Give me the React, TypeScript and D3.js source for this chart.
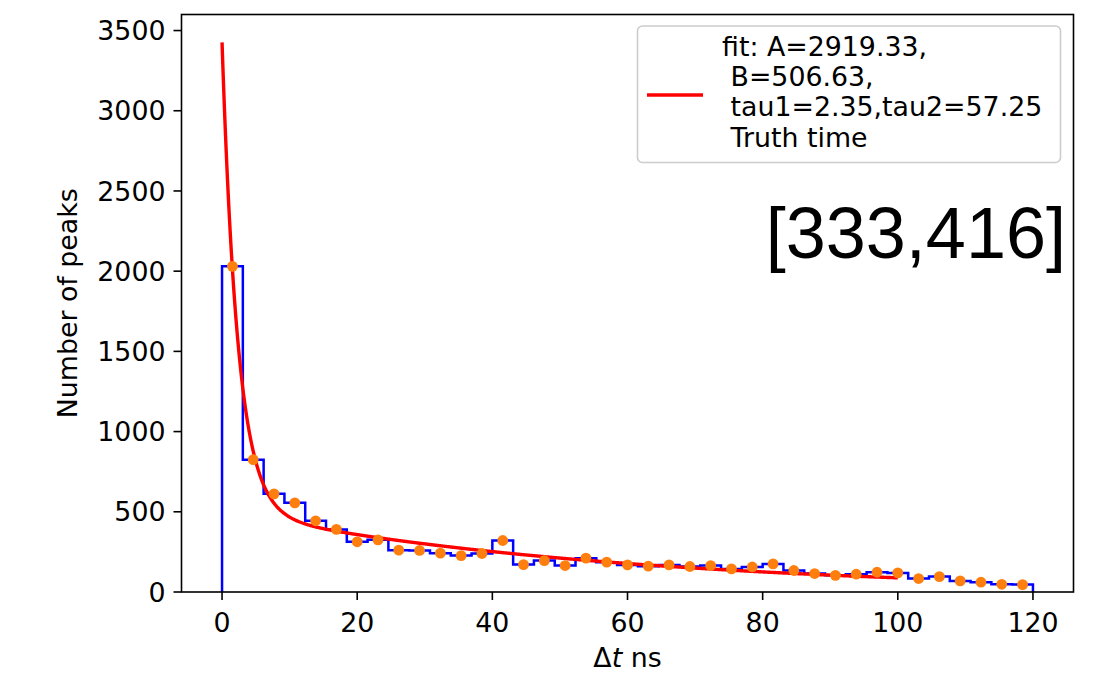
import React from 'react'
import * as d3 from 'd3'

// histogram of delta t (39 equal bins over [0, 120])
const binRange = [0, 120]
const counts = [
  2030, 825, 612, 556, 444, 390, 313, 325, 261, 259,
  242, 227, 240, 321, 171, 196, 165, 211, 186, 169,
  161, 169, 159, 165, 144, 156, 175, 134, 115, 104,
  111, 123, 119, 84, 96, 69, 61, 48, 46
]

// fit parameters shown in the legend
const fitA = 2919.33
const fitB = 506.63
const fitTau1 = 2.35
const fitTau2 = 57.25
const fitRange = [0, 100]

const xTicks = [0, 20, 40, 60, 80, 100, 120]
const yTicks = [0, 500, 1000, 1500, 2000, 2500, 3000, 3500]
const legendLines = [
  `fit: A=${fitA.toFixed(2)},`,
  ` B=${fitB.toFixed(2)},`,
  ` tau1=${fitTau1.toFixed(2)},tau2=${fitTau2.toFixed(2)}`,
  ' Truth time'
]
const tag = '[333,416]'

const W = 1112
const H = 675
const m = { left: 181.5, right: 1073.5, top: 14.5, bottom: 592 }
const font = 'DejaVu Sans, sans-serif'
const fs = 26.8

export default function App () {
  const x = d3.scaleLinear().domain([-6, 126]).range([m.left, m.right])
  const y = d3.scaleLinear().domain([0, 3600]).range([m.bottom, m.top])

  const nBins = counts.length
  const width = (binRange[1] - binRange[0]) / nBins
  const edges = d3.range(nBins + 1).map(i => binRange[0] + i * width)
  const centers = counts.map((_, i) => edges[i] + width / 2)

  const stepPts: [number, number][] = [
    [edges[0], 0],
    ...counts.map((c, i) => [edges[i], c] as [number, number]),
    [edges[nBins], counts[nBins - 1]],
    [edges[nBins], 0]
  ]
  const stepLine = d3.line<[number, number]>()
    .x(d => x(d[0]))
    .y(d => y(d[1]))
    .curve(d3.curveStepAfter)

  const fit = (t: number) => fitA * Math.exp(-t / fitTau1) + fitB * Math.exp(-t / fitTau2)
  const fitPts = d3.range(fitRange[0], fitRange[1] + 0.001, 0.1).map(t => [t, fit(t)] as [number, number])
  const fitLine = d3.line<[number, number]>().x(d => x(d[0])).y(d => y(d[1]))

  return (
    <svg width={W} height={H} style={{ position: 'absolute', left: 0, top: 0, background: '#fff' }}>
      <defs>
        <clipPath id='plot'>
          <rect x={m.left} y={m.top} width={m.right - m.left} height={m.bottom - m.top} />
        </clipPath>
      </defs>

      <g clipPath='url(#plot)'>
        <path d={stepLine(stepPts) || ''} fill='none' stroke='#0000ff' strokeWidth={2.5} />
        <path d={fitLine(fitPts) || ''} fill='none' stroke='#ff0000' strokeWidth={3.4} />
        {counts.map((c, i) => (
          <circle key={i} cx={x(centers[i])} cy={y(c)} r={5.4} fill='#ff7f0e' />
        ))}
      </g>

      <rect x={m.left} y={m.top} width={m.right - m.left} height={m.bottom - m.top}
        fill='none' stroke='#000' strokeWidth={1.6} />

      {xTicks.map(t => (
        <g key={t}>
          <line x1={x(t)} x2={x(t)} y1={m.bottom} y2={m.bottom + 8} stroke='#000' strokeWidth={1.6} />
          <text x={x(t)} y={m.bottom + 40} textAnchor='middle' fontFamily={font} fontSize={fs}>{t}</text>
        </g>
      ))}
      {yTicks.map(t => (
        <g key={t}>
          <line x1={m.left - 8} x2={m.left} y1={y(t)} y2={y(t)} stroke='#000' strokeWidth={1.6} />
          <text x={m.left - 16} y={y(t)} dy='0.36em' textAnchor='end' fontFamily={font} fontSize={fs}>{t}</text>
        </g>
      ))}

      <text x={(m.left + m.right) / 2} y={667} textAnchor='middle' fontFamily={font} fontSize={fs}>
        Δ<tspan fontStyle='italic'>t</tspan> ns
      </text>
      <text transform={`translate(77,${(m.top + m.bottom) / 2}) rotate(-90)`} textAnchor='middle'
        fontFamily={font} fontSize={fs}>Number of peaks</text>

      <g>
        <rect x={637.5} y={26} width={423} height={136.5} rx={5} fill='#fff' fillOpacity={0.8}
          stroke='#cccccc' strokeWidth={1.6} />
        <line x1={647} x2={703} y1={95} y2={95} stroke='#ff0000' strokeWidth={3.4} />
        {legendLines.map((s, i) => (
          <text key={i} x={722} y={56 + i * 30.2} fontFamily={font} fontSize={fs}
            style={{ whiteSpace: 'pre' }}>{s}</text>
        ))}
      </g>

      <text x={1066} y={258} textAnchor='end' fontFamily='Liberation Sans, Arial, sans-serif' fontSize={72}>{tag}</text>
    </svg>
  )
}
